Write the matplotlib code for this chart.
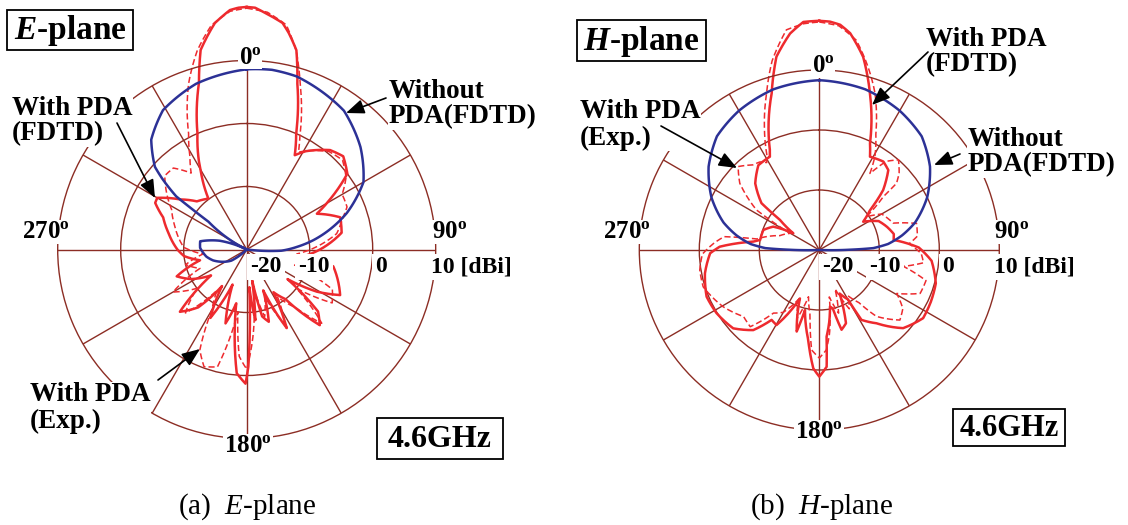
import numpy as np
import matplotlib
matplotlib.use("Agg")
import matplotlib.pyplot as plt
from matplotlib.patches import Rectangle, FancyArrowPatch

# ---- data: angle (deg, clockwise from 0 at top) and gain (dBi) ----
# (a) E-plane
e_ang_fdtd = [0, 2, 4, 9, 11, 14, 17, 23, 27, 31, 40, 46, 53, 59, 63, 71, 80, 89, 97, 101,
              110, 116, 121, 126, 131, 136, 142, 148, 153, 158, 163, 167, 170, 173, 176,
              177.5, 179.2, 180.5, 184.6, 189, 191, 196, 202, 208, 214, 220, 227, 234, 242,
              249, 257, 264, 270, 282, 291, 297, 300, 307, 314, 323, 329, 337, 344, 347,
              352, 356, 358, 360]
e_val_fdtd = [18.5, 18.4, 17.8, 16.4, 15.0, 12.6, 7.5, 0.1, -3.2, -1.8, 0.6, 1.3, 0.0, -4.6,
              -7.5, -4.3, -4.7, -8.0, -11.0, -6.0, -4.5, -3.5, -7.0, -12.0, -5.0, -3.3,
              -10.0, -12.0, -6.0, -13.0, -8.0, -9.1, -15.0, -8.7, -14.0, -8.3, -1.4, 1.3,
              -0.3, -8.0, -11.3, -7.8, -14.0, -7.7, -13.0, -8.0, -5.5, -13.0, -10.0, -8.1,
              -12.4, -10.0, -9.0, -7.3, -5.8, -3.7, -3.6, -6.8, -9.0, -9.9, -6.0, 0.0, 7.5,
              12.5, 16.3, 18.1, 18.4, 18.5]

e_ang_exp = [0, 5, 10, 14, 18, 25, 28, 32, 40, 47, 54, 60, 67, 72, 80, 88, 95, 100, 108, 115,
             122, 128, 134.5, 140, 147, 153, 159, 165, 170, 176, 180, 184, 188, 194, 200,
             205, 210, 216, 224, 232, 240, 248, 256, 264, 272, 280, 288, 298, 305, 312, 318,
             324, 328.6, 333.4, 340.7, 346, 351, 356, 360]
e_val_exp = [18.3, 17.8, 16.2, 12.5, 7.5, 0.0, -2.5, -1.5, 0.3, 0.8, -0.5, -2.5, -2.7, -4.0,
             -5.5, -9.0, -12.0, -8.0, -12.0, -5.0, -4.0, -10.0, -3.3, -8.0, -11.0, -6.5,
             -12.0, -9.0, -14.0, -6.0, -1.0, -3.0, -10.0, -0.8, -0.2, -2.4, -9.0, -12.0,
             -6.0, -10.0, -6.5, -12.0, -10.0, -13.0, -10.0, -9.0, -8.0, -6.5, -4.5, -2.5,
             -2.6, -5.0, -2.7, 0.6, 7.9, 12.5, 16.0, 17.9, 18.3]

e_ang_nopda = [0, 8, 16, 35, 48, 60, 70, 82, 87, 92, 97, 225, 234, 252, 260, 272, 280, 288,
               296, 306, 307, 310, 312, 319, 329, 343, 360]
e_val_nopda = [8.6, 8.8, 8.6, 6.9, 4.3, 1.4, -3.1, -9.3, -12.0, -14.5, -20.0, -20.0, -17.0,
               -14.4, -13.5, -12.6, -12.5, -15.5, -20.0, -12.5, -6.0, -2.5, -0.4, 3.1, 5.8,
               7.5, 8.6]

# (b) H-plane
h_ang_fdtd = [0, 2.7, 5.3, 8.1, 12.8, 17.9, 25.4, 28.5, 35.9, 40.8, 46.8, 51.7, 57.2, 64,
              70.9, 77.9, 82.3, 88.6, 95.5, 106, 115, 123.3, 133, 142, 148.9, 150, 155, 160,
              164.4, 167, 169.3, 172, 175.2, 176.4, 180, 182.9, 187, 193.4, 195.5, 201.8,
              209.7, 214.3, 219.5, 227.7, 238.4, 247.5, 258.5, 268.3, 271.9, 277.2, 279.6,
              289.7, 296.9, 302.7, 307.4, 309, 316.1, 324.3, 332.1, 333.7, 343.1, 347.5,
              352.3, 356, 360]
h_val_fdtd = [18.2, 18.1, 17.7, 16.5, 13.0, 7.45, -0.3, -2.3, -1.8, -2.4, -5.4, -9.2, -11.3,
              -9.0, -8.1, -7.3, -7.5, -3.4, -1.2, 0.2, 0.5, 0.7, -0.9, -4.5, -6.4, -10.5,
              -12.0, -7.0, -6.2, -10.0, -10.4, -8.0, -5.5, -0.5, 1.1, -0.25, -4.9, -9.7,
              -5.9, -11.3, -5.6, -5.9, -2.7, -0.6, 0.1, 0.33, -0.55, -1.8, -3.4, -8.9,
              -10.0, -10.1, -11.4, -14.85, -11.75, -7.6, -4.6, -2.6, -2.4, -1.4, 7.3, 13.0,
              16.4, 18.1, 18.2]

h_ang_exp = [0, 5, 10, 15, 19.6, 26, 30.8, 33.5, 37, 41.3, 46, 49.2, 50.2, 54.8, 60, 70,
             74.7, 82, 86, 92, 97, 101, 106, 113.3, 119.3, 125, 131, 139.3, 143, 148, 153,
             158, 163, 168, 173, 176, 180, 184.4, 188, 193, 198, 203, 210, 216, 222, 228.7,
             239.4, 252.4, 260.5, 268, 274, 278, 280, 290, 299.7, 302.5, 310, 315.8, 322,
             326, 329, 331, 336, 341.4, 346, 351.5, 356, 360]
h_val_exp = [18.0, 17.5, 15.5, 11.5, 7.7, 1.5, -1.9, -4.7, -1.5, 0.0, -1.5, -3.0, -6.1,
             -10.4, -8.0, -6.9, -3.2, -3.5, -5.0, -3.0, -2.5, -5.7, -1.5, -1.7, -5.2, -3.0,
             -2.2, -5.4, -9.0, -11.0, -9.0, -13.0, -9.0, -12.0, -6.0, -3.3, -2.0, -3.3,
             -9.0, -12.0, -8.0, -11.0, -8.0, -7.0, -2.8, -3.2, -1.4, 0.3, 0.2, -0.5, -2.5,
             -4.0, -9.4, -13.0, -14.4, -7.6, -2.7, -0.6, -2.0, -2.3, -3.0, -2.0, 2.5, 7.55,
             12.5, 17.1, 17.8, 18.0]

h_ang_nopda = [0, 16, 30, 42, 53, 64, 74, 80, 85, 88, 89.5, 92, 268, 270.5, 272, 275, 280,
               286, 296, 307, 318, 330, 344, 360]
h_val_nopda = [8.3, 7.85, 6.8, 5.5, 3.1, 0.0, -3.4, -6.0, -8.5, -11.0, -15.0, -20.0, -20.0,
               -15.0, -11.0, -8.5, -6.0, -3.4, 0.0, 3.1, 5.5, 6.8, 7.85, 8.3]

angle_ticks = ["0", "90", "180", "270"]
r_ticks = ["-20", "-10", "0", "10 [dBi]"]

# ---- style ----
GRID = "#8c2d24"
RED = "#ee2a2e"
BLUE = "#2c3196"
W, H = 1128, 525

plt.rcParams["font.family"] = "Liberation Serif"
plt.rcParams["mathtext.fontset"] = "custom"
plt.rcParams["mathtext.rm"] = "Liberation Serif:bold"
plt.rcParams["mathtext.it"] = "Liberation Serif:italic:bold"
plt.rcParams["mathtext.sf"] = "Liberation Serif:italic"

fig = plt.figure(figsize=(W / 100, H / 100), dpi=100)


def fp(x, y):
    # pixel position (from top-left) -> figure fraction
    return x / W, 1 - y / H


def make_polar(cx, cy, R):
    ax = fig.add_axes([(cx - R) / W, 1 - (cy + R) / H, 2 * R / W, 2 * R / H],
                      projection="polar")
    ax.set_theta_zero_location("N")
    ax.set_theta_direction(-1)
    ax.set_ylim(-20, 10)
    ax.set_yticks([-10, 0])
    ax.set_xticks(np.deg2rad(np.arange(0, 360, 30)))
    ax.set_xticklabels([])
    ax.set_yticklabels([])
    ax.tick_params(length=0)
    ax.grid(True, color=GRID, lw=1.0)
    ax.spines["polar"].set_color(GRID)
    ax.spines["polar"].set_linewidth(1.0)
    ax.set_facecolor("none")
    return ax


def curve(ax, ang, val, **kw):
    line, = ax.plot(np.deg2rad(ang), np.maximum(val, -20), clip_on=False, **kw)
    # draw each segment along the polar grid (arc/spiral) instead of a straight chord
    line.get_path()._interpolation_steps = 16


def label(x, y, s, size=17, ha="center", pad=0.5, **kw):
    fig.text(*fp(x, y), s, ha=ha, va="center", fontsize=size, fontweight="bold",
             bbox=dict(fc="white", ec="none", pad=pad), **kw)


def box(x0, y0, x1, y1, s, size):
    fig.add_artist(Rectangle(fp(x0, y1), (x1 - x0) / W, (y1 - y0) / H,
                             transform=fig.transFigure, fc="white", ec="black", lw=1.3))
    fig.text(*fp((x0 + x1) / 2, (y0 + y1) / 2 + 1), s, ha="center", va="center",
             fontsize=size, fontweight="bold")


def arrow(x0, y0, x1, y1):
    fig.add_artist(FancyArrowPatch(fp(x0, y0), fp(x1, y1), transform=fig.transFigure,
                                   arrowstyle="-|>,head_length=0.55,head_width=0.22",
                                   mutation_scale=20, lw=1.2, color="black",
                                   shrinkA=0, shrinkB=0, zorder=5))


def deg(s):
    return r"$%s^{\mathrm{o}}$" % s


# ---- (a) E-plane ----
ax1 = make_polar(246.7, 249.5, 189)
curve(ax1, e_ang_exp, e_val_exp, color=RED, lw=1.1, dashes=(4, 2))
curve(ax1, e_ang_fdtd, e_val_fdtd, color=RED, lw=1.8)
curve(ax1, e_ang_nopda, e_val_nopda, color=BLUE, lw=1.8)

label(250, 57, deg(angle_ticks[0]), size=18, pad=0.2)
label(450, 232, deg(angle_ticks[1]), size=18)
label(248, 446, deg(angle_ticks[2]), size=18)
label(46, 232, deg(angle_ticks[3]), size=18)
label(266, 267, r_ticks[0], pad=2)
label(314, 267, r_ticks[1], pad=2)
label(381, 267, r_ticks[2], pad=2)
label(471, 267, r_ticks[3], pad=2)

label(389, 104, "Without\nPDA(FDTD)", size=19.5, ha="left", linespacing=1.05)
label(12, 121, "With PDA\n(FDTD)", size=19.5, ha="left", linespacing=1.05)
label(30, 408, "With PDA\n(Exp.)", size=19.5, ha="left", linespacing=1.05)
arrow(386, 98, 346, 113)
arrow(117, 123, 155, 198)
arrow(158, 380, 200, 349)

box(7, 10, 133, 50, r"$E$-plane", 24)
box(377, 418, 503, 459, "4.6GHz", 23)
fig.text(*fp(247, 507), r"(a)  $\mathsf{E}$-plane", ha="center", va="center",
         fontsize=21)

# ---- (b) H-plane ----
ax2 = make_polar(819.3, 250, 180)
curve(ax2, h_ang_exp, h_val_exp, color=RED, lw=1.1, dashes=(4, 2))
curve(ax2, h_ang_fdtd, h_val_fdtd, color=RED, lw=1.8)
curve(ax2, h_ang_nopda, h_val_nopda, color=BLUE, lw=1.8)

label(823, 66, deg(angle_ticks[0]), size=18, pad=0.2)
label(1012, 232, deg(angle_ticks[1]), size=18)
label(819, 432, deg(angle_ticks[2]), size=18)
label(627, 232, deg(angle_ticks[3]), size=18)
label(838, 267, r_ticks[0], pad=2)
label(885, 267, r_ticks[1], pad=2)
label(948, 267, r_ticks[2], pad=2)
label(1034, 267, r_ticks[3], pad=2)

label(926, 52, "With PDA\n(FDTD)", size=19.5, ha="left", linespacing=1.05)
label(580, 125, "With PDA\n(Exp.)", size=19.5, ha="left", linespacing=1.05)
label(968, 152, "Without\nPDA(FDTD)", size=19.5, ha="left", linespacing=1.05)
arrow(928, 52, 872, 105)
arrow(661, 126, 737, 168)
arrow(960, 154, 934, 165)

box(577, 20, 706, 61, r"$H$-plane", 24)
box(953, 409, 1065, 446, "4.6GHz", 22)
fig.text(*fp(822, 507), r"(b)  $\mathsf{H}$-plane", ha="center", va="center",
         fontsize=21)

fig.savefig("out.png", dpi=100)
